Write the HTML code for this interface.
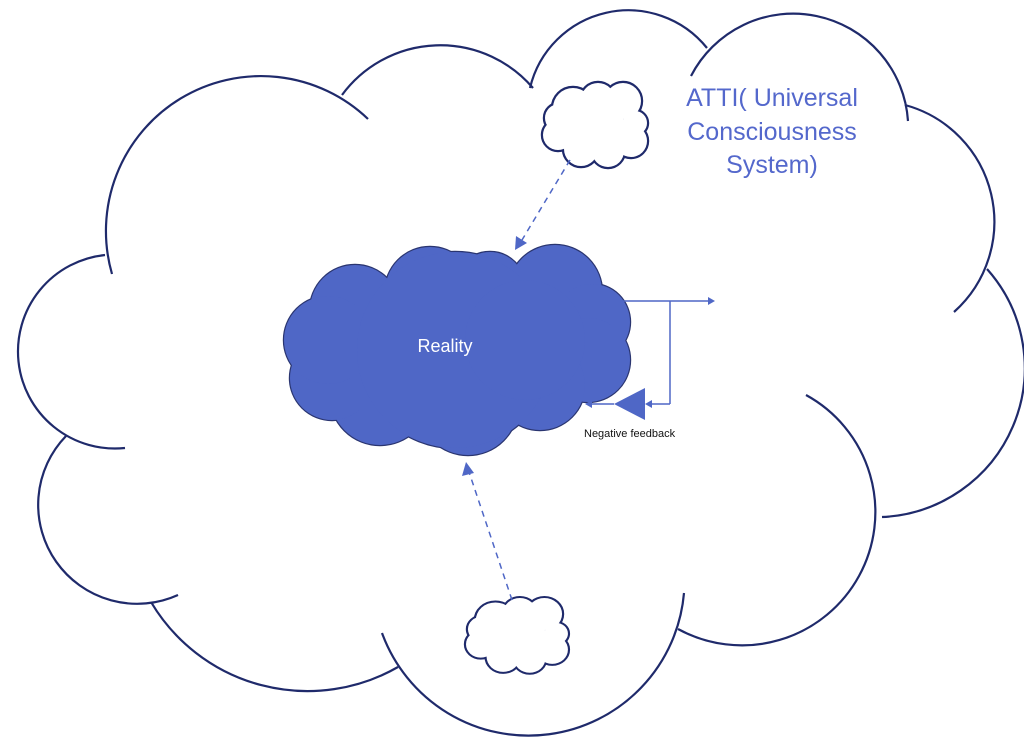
<!DOCTYPE html>
<html><head><meta charset="utf-8"><style>
html,body{margin:0;padding:0;background:#fff;width:1024px;height:741px;overflow:hidden}
svg{display:block}
</style></head><body>
<svg width="1024" height="741" viewBox="0 0 1024 741" xmlns="http://www.w3.org/2000/svg">
<defs>
<g id="sc">
<circle cx="30" cy="25" r="20"/><circle cx="55" cy="17" r="17"/><circle cx="80" cy="18" r="18"/>
<circle cx="92" cy="40" r="12"/><circle cx="88" cy="58" r="16"/><circle cx="65" cy="68" r="16"/>
<circle cx="38" cy="66" r="17"/><circle cx="15" cy="52" r="15"/><circle cx="16" cy="35" r="14"/>
<circle cx="52" cy="45" r="30"/>
</g>
<g id="rc">
<circle cx="355" cy="310" r="45"/><circle cx="430" cy="292" r="45"/><circle cx="490" cy="287" r="35"/>
<circle cx="555" cy="292" r="47"/><circle cx="592" cy="322" r="38"/><circle cx="588" cy="360" r="42"/>
<circle cx="540" cy="385" r="45"/><circle cx="468" cy="405" r="50"/><circle cx="380" cy="395" r="50"/>
<circle cx="332" cy="378" r="42"/><circle cx="328" cy="340" r="44"/><circle cx="455" cy="350" r="98"/>
<circle cx="525" cy="340" r="60"/>
</g>
</defs>
<g fill="none" stroke="#1f2a6b" stroke-width="2.2">
<path d="M112 274 A155 155 0 0 1 368 119"/>
<path d="M342 95 A122 122 0 0 1 533 88"/>
<path d="M530 88 A101 101 0 0 1 707 48"/>
<path d="M691 76 A115 115 0 0 1 908 121"/>
<path d="M905 105 A121 121 0 0 1 954 312"/>
<path d="M987 269 A149 149 0 0 1 882 517"/>
<path d="M806 395 A133 133 0 0 1 678 629"/>
<path d="M684 593 A156 156 0 0 1 382 633"/>
<path d="M398 667 A182 182 0 0 1 151 602"/>
<path d="M178 595 A99 99 0 0 1 66 436"/>
<path d="M125 448 A97 97 0 0 1 105 255"/>
</g>
<g transform="translate(543,83)">
<use href="#sc" fill="none" stroke="#1f2a6b" stroke-width="4.4"/>
<use href="#sc" fill="#fff" stroke="none"/>
</g>
<g transform="translate(466,598) scale(0.98,0.89)">
<use href="#sc" fill="none" stroke="#1f2a6b" stroke-width="4.4"/>
<use href="#sc" fill="#fff" stroke="none"/>
</g>
<use href="#rc" fill="none" stroke="#2a3570" stroke-width="2.4"/>
<use href="#rc" fill="#4f67c6" stroke="none"/>
<text x="445" y="352" font-family="Liberation Sans, sans-serif" font-size="18" fill="#fff" text-anchor="middle">Reality</text>
<g stroke="#4f67c6" stroke-width="1.5" fill="none" stroke-dasharray="6,5">
<line x1="570" y1="160" x2="522" y2="240"/>
<line x1="512" y1="600" x2="469" y2="472"/>
</g>
<polygon points="515,250 516,236 527,243" fill="#4f67c6"/>
<polygon points="466,462 462,476 474,473" fill="#4f67c6"/>
<g stroke="#4f67c6" stroke-width="1.5" fill="none">
<line x1="622" y1="301" x2="712" y2="301"/>
<line x1="670" y1="301" x2="670" y2="404"/>
<line x1="670" y1="404" x2="648" y2="404"/>
<line x1="614" y1="404" x2="588" y2="404"/>
</g>
<polygon points="715,301 708,297 708,305" fill="#4f67c6"/>
<polygon points="645,404 652,400 652,408" fill="#4f67c6"/>
<polygon points="585,404 592,400 592,408" fill="#4f67c6"/>
<polygon points="614,404 645,388 645,420" fill="#4f67c6"/>
<text x="584" y="437" font-family="Liberation Sans, sans-serif" font-size="11" fill="#111">Negative feedback</text>
<g font-family="Liberation Sans, sans-serif" font-size="25" fill="#5468cc" text-anchor="middle">
<text x="772" y="106">ATTI( Universal</text>
<text x="772" y="140">Consciousness</text>
<text x="772" y="173">System)</text>
</g>
</svg>
</body></html>
